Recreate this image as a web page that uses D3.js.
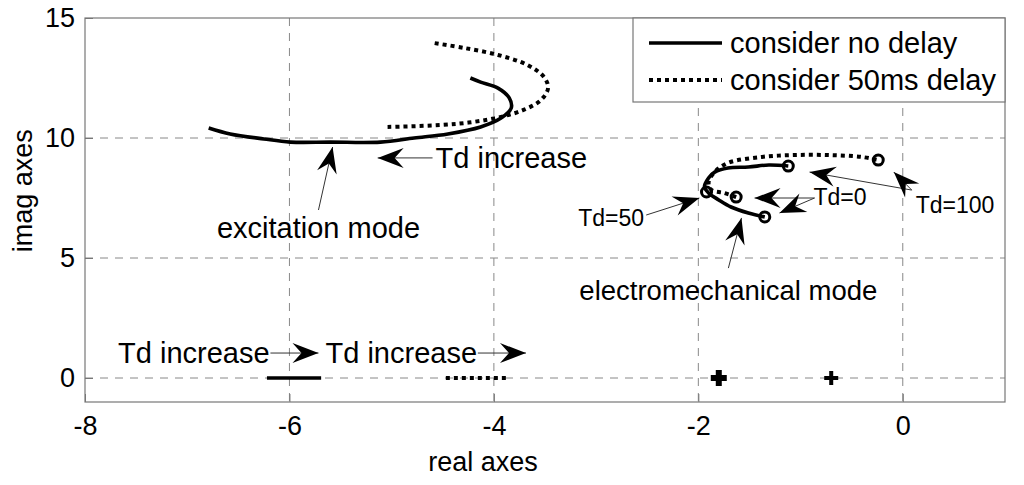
<!DOCTYPE html>
<html>
<head>
<meta charset="utf-8">
<script src="https://cdn.jsdelivr.net/npm/d3@7"></script>
<style>
  body { margin: 0; background: #fff; }
  text { font-family: "Liberation Sans", Arial, sans-serif; fill: #000; }
</style>
</head>
<body>
<div id="chart"></div>
<script>
// root locus data: [real, imag]
var excNoDelay = [[-6.79,10.42],[-6.58,10.17],[-6.25,9.96],[-5.99,9.83],[-5.6,9.83],[-5.11,9.83],
  [-4.78,10.0],[-4.45,10.17],[-4.13,10.46],[-3.93,10.83],[-3.83,11.25],[-3.85,11.67],[-3.96,12.08],
  [-4.13,12.33],[-4.23,12.5]];
var excDelay = [[-5.04,10.46],[-4.52,10.54],[-4.2,10.67],[-3.93,10.88],[-3.71,11.17],[-3.54,11.58],
  [-3.47,12.08],[-3.51,12.54],[-3.67,13.04],[-3.96,13.46],[-4.29,13.75],[-4.59,13.96]];
var emNoDelay = [[-1.35,6.71],[-1.51,6.875],[-1.68,7.125],[-1.8,7.42],[-1.9,7.71],[-1.94,7.96],
  [-1.9,8.33],[-1.84,8.58],[-1.71,8.75],[-1.51,8.79],[-1.31,8.875],[-1.12,8.83]];
var emDelay = [[-1.63,7.54],[-1.75,7.71],[-1.87,7.83],[-1.9,8.125],[-1.85,8.54],[-1.71,8.96],
  [-1.38,9.21],[-1.06,9.29],[-0.73,9.29],[-0.4,9.21],[-0.24,9.08]];
var realNoDelay = [[-6.22,0],[-5.69,0]];
var realDelay = [[-4.47,0],[-3.86,0]];
var circles = [[-1.35,6.71],[-1.12,8.83],[-1.63,7.54],[-0.24,9.08],[-1.92,7.75]];
var pluses = [[-1.8,0,1],[-0.7,0,0]];

var xTicks = [-8, -6, -4, -2, 0];
var yTicks = [0, 5, 10, 15];
var legendLabels = ["consider no delay", "consider 50ms delay"];

// annotations: text, text position, anchor, arrows [tail, tip]
var notes = [
  {t: "Td increase", p: [-4.57, 9.17], a: "start", s: 29, arrows: [[[-4.6, 9.17], [-5.137, 9.17]]]},
  {t: "excitation mode", p: [-5.716, 6.25], a: "middle", s: 29, arrows: [[[-5.716, 7.0], [-5.578, 9.625]]]},
  {t: "Td=50", p: [-2.53, 6.67], a: "end", s: 23, arrows: [[[-2.51, 6.79], [-1.99, 7.5]]]},
  {t: "Td=0", p: [-0.873, 7.54], a: "start", s: 23, arrows: [[[-0.863, 7.5], [-1.45, 7.5]], [[-0.863, 7.5], [-1.206, 6.875]]]},
  {t: "Td=100", p: [0.127, 7.21], a: "start", s: 23, arrows: [[[0.088, 7.83], [-0.912, 8.58]], [[0.088, 7.83], [-0.088, 8.58]]]},
  {t: "electromechanical mode", p: [-1.706, 3.67], a: "middle", s: 27.5, arrows: [[[-1.706, 4.58], [-1.578, 6.67]]]},
  {t: "Td increase", p: [-7.676, 1.04], a: "start", s: 29, arrows: [[[-6.186, 1.04], [-5.716, 1.04]]]},
  {t: "Td increase", p: [-5.647, 1.04], a: "start", s: 29, arrows: [[[-4.157, 1.04], [-3.686, 1.04]]]}
];

var svgWidth = 1024;
var svgHeight = 485;
var margin = {top: 18, right: 19, bottom: 83, left: 85};
var width = svgWidth - margin.left - margin.right;
var height = svgHeight - margin.top - margin.bottom;

var svg = d3.select("#chart").append("svg")
  .attr("width", svgWidth)
  .attr("height", svgHeight);

var chartGroup = svg.append("g")
  .attr("transform", `translate(${margin.left}, ${margin.top})`);

var x = d3.scaleLinear().domain([-8, 1]).range([0, width]);
var y = d3.scaleLinear().domain([-1, 15]).range([height, 0]);

// grid
chartGroup.selectAll(".gx").data(xTicks.slice(1)).enter().append("line")
  .attr("x1", d => x(d)).attr("x2", d => x(d)).attr("y1", 0).attr("y2", height)
  .attr("stroke", "#888").attr("stroke-dasharray", "8,7").attr("stroke-width", 1);
chartGroup.selectAll(".gy").data(yTicks.slice(0, 3)).enter().append("line")
  .attr("y1", d => y(d)).attr("y2", d => y(d)).attr("x1", 0).attr("x2", width)
  .attr("stroke", "#888").attr("stroke-dasharray", "8,7").attr("stroke-width", 1);

// axes (plain hyphen minus like the original)
var bottomAxis = d3.axisBottom(x).tickValues(xTicks).tickSize(-8).tickPadding(14)
  .tickFormat(d => String(d));
var leftAxis = d3.axisLeft(y).tickValues(yTicks).tickSize(-8).tickPadding(10)
  .tickFormat(d => String(d));

var xAxis = chartGroup.append("g")
  .attr("transform", `translate(0, ${height})`)
  .call(bottomAxis);
var yAxis = chartGroup.append("g").call(leftAxis);
[xAxis, yAxis].forEach(function(ax) {
  ax.select(".domain").remove();
  ax.selectAll("line").attr("stroke", "#777");
  ax.selectAll("text").style("font-size", "27px").attr("fill", "#000");
});
chartGroup.append("rect")
  .attr("width", width).attr("height", height)
  .attr("fill", "none").attr("stroke", "#777").attr("stroke-width", 1.2);

svg.append("text")
  .attr("x", margin.left + width / 2 - 62).attr("y", 471)
  .attr("text-anchor", "middle").style("font-size", "27px")
  .text("real axes");
svg.append("text")
  .attr("transform", `translate(32, ${margin.top + y(7.8)}) rotate(-90)`)
  .attr("text-anchor", "middle").style("font-size", "27px")
  .text("imag axes");

var line = d3.line().x(d => x(d[0])).y(d => y(d[1])).curve(d3.curveCatmullRom);

function drawCurve(data, dotted) {
  chartGroup.append("path")
    .datum(data)
    .attr("d", line)
    .attr("fill", "none")
    .attr("stroke", "#000")
    .attr("stroke-width", dotted ? 4 : 3.6)
    .attr("stroke-dasharray", dotted ? "4,4" : null);
}
drawCurve(excNoDelay, false);
drawCurve(excDelay, true);
drawCurve(emNoDelay, false);
drawCurve(emDelay, true);
drawCurve(realNoDelay, false);
drawCurve(realDelay, true);

chartGroup.selectAll(".circ").data(circles).enter().append("circle")
  .attr("cx", d => x(d[0])).attr("cy", d => y(d[1])).attr("r", 5)
  .attr("fill", "none").attr("stroke", "#000").attr("stroke-width", 3);

pluses.forEach(function(d) {
  var s = d[2] ? 8 : 7, w = d[2] ? 6 : 4;
  var cx = x(d[0]), cy = y(d[1]);
  chartGroup.append("path")
    .attr("d", `M${cx - s},${cy}H${cx + s}M${cx},${cy - s}V${cy + s}`)
    .attr("stroke", "#000").attr("stroke-width", w);
});

// annotation arrows
function arrowHead(tail, tip) {
  var x0 = x(tail[0]), y0 = y(tail[1]), x1 = x(tip[0]), y1 = y(tip[1]);
  var ang = Math.atan2(y1 - y0, x1 - x0);
  var L = 26, W = 10, N = 17;
  var c = Math.cos(ang), s = Math.sin(ang);
  var p = function(a, b) { return [x1 - a * c - b * s, y1 - a * s + b * c]; };
  var pts = [[x1, y1], p(L, W), p(N, 0), p(L, -W)];
  return "M" + pts.map(q => q.join(",")).join("L") + "Z";
}

notes.forEach(function(n) {
  n.arrows.forEach(function(a) {
    chartGroup.append("line")
      .attr("x1", x(a[0][0])).attr("y1", y(a[0][1]))
      .attr("x2", x(a[1][0])).attr("y2", y(a[1][1]))
      .attr("stroke", "#333").attr("stroke-width", 1);
    chartGroup.append("path").attr("d", arrowHead(a[0], a[1])).attr("fill", "#000");
  });
  chartGroup.append("text")
    .attr("x", x(n.p[0])).attr("y", y(n.p[1]))
    .attr("dy", "0.35em")
    .attr("text-anchor", n.a)
    .style("font-size", n.s + "px")
    .text(n.t);
});

// legend
var legend = svg.append("g").attr("transform", "translate(633, 18)");
legend.append("rect").attr("width", 372).attr("height", 84)
  .attr("fill", "#fff").attr("stroke", "#777").attr("stroke-width", 1.2);
legendLabels.forEach(function(lab, i) {
  var ly = 25 + i * 37;
  legend.append("line").attr("x1", 16).attr("x2", 89).attr("y1", ly).attr("y2", ly)
    .attr("stroke", "#000").attr("stroke-width", i ? 4 : 3.6)
    .attr("stroke-dasharray", i ? "4,4" : null);
  legend.append("text").attr("x", 97).attr("y", ly).attr("dy", "0.35em")
    .style("font-size", "29px").text(lab);
});
</script>
</body>
</html>
